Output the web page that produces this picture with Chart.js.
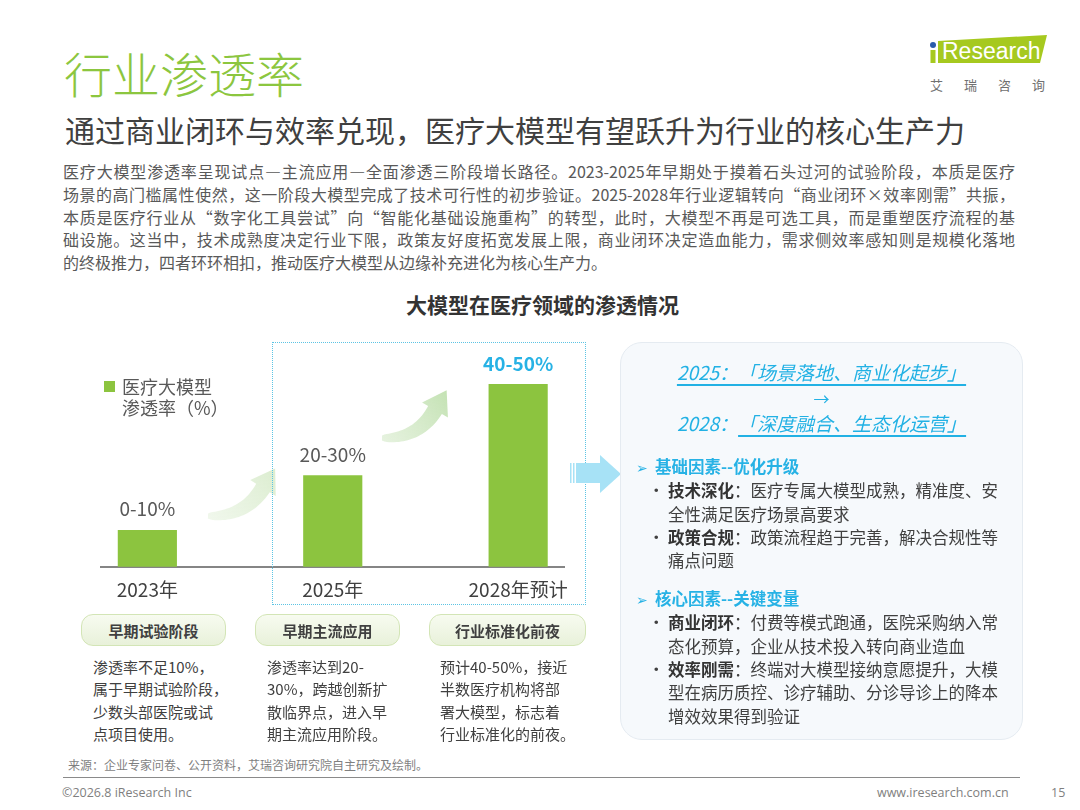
<!DOCTYPE html>
<html lang="zh-CN">
<head>
<meta charset="utf-8">
<script src="https://cdn.jsdelivr.net/npm/chart.js@4.4.1/dist/chart.umd.min.js"></script>
<style>
  * { margin: 0; padding: 0; box-sizing: border-box; }
  html, body { width: 1080px; height: 810px; background: #fff; overflow: hidden; }
  body { position: relative; font-family: "Noto Sans CJK SC", "Noto Sans", sans-serif; color: #404040; }
  .abs { position: absolute; white-space: nowrap; }

  /* ── header ── */
  .title    { left: 64px; top: 48px; font-size: 48px; line-height: 48px; color: #8cc63f; font-weight: 300; }
  .subtitle { left: 65px; top: 114px; font-size: 30px; line-height: 30px; color: #404040; }
  .logo-box { left: 926px; top: 34px; width: 124px; height: 32px; }
  .logo-cn  { left: 930px; top: 77px; font-size: 13px; line-height: 16px; color: #707070; letter-spacing: 21px; }

  .para { left: 63px; top: 160px; width: 952px; font-size: 16px; line-height: 22.75px; color: #595959; }
  .para div { text-align: justify; text-align-last: justify; white-space: nowrap; }
  .para div.last { text-align-last: left; }

  .chart-title { left: 0; width: 1085px; text-align: center; top: 292px; font-size: 21px; line-height: 24px; font-weight: bold; color: #333; }

  /* ── chart area ── */
  #chartWrap { position: absolute; left: 60px; top: 330px; width: 560px; height: 280px; }
  .legend-sq { left: 104px; top: 381px; width: 11px; height: 11px; background: #8cc43f; }
  .legend-tx { left: 122px; font-size: 18px; line-height: 20px; height: 20px; color: #595959; }
  .dash-box { left: 272px; top: 342px; width: 314px; height: 263px; border: 1.5px dotted #5cc4e4; }

  /* ── stage boxes ── */
  .stage { top: 614px; height: 32px; border: 1.5px solid #d3e5b6; border-radius: 12px;
           background: linear-gradient(#f7fbf0, #e8f1da); display: flex; align-items: center; justify-content: center;
           font-size: 15px; font-weight: bold; color: #404040; }
  .desc { top: 656px; font-size: 15px; line-height: 22.4px; color: #404040; }

  /* ── right panel ── */
  .panel { left: 620px; top: 342px; width: 403px; height: 398px; border-radius: 22px; background: #f6f9fc; border: 1px solid #e5ebf1; }
  .hl { left: 620px; width: 403px; text-align: center; font-size: 19px; line-height: 24px; font-style: italic; color: #22b1e4; }
  .hl u { text-decoration: underline; text-underline-offset: 4px; text-decoration-thickness: 1.5px; }
  .sec { left: 636px; font-size: 16.5px; line-height: 23.35px; color: #404040; }
  .sec .h { color: #27b2e5; font-weight: bold; }
  .sec .h .mk { display: inline-block; width: 19px; font-size: 14px; font-weight: normal; }
  .sec .b { position: relative; padding-left: 32px; }
  .sec .b .dot { position: absolute; left: 12px; top: 0; }
  .sec b { color: #333; }

  /* ── footer ── */
  .source { left: 68px; top: 757px; font-size: 12px; line-height: 16px; color: #7f7f7f; }
  .rule { left: 63px; top: 777px; width: 957px; height: 0; border-top: 1.5px solid #8a8a8a; }
  .foot { top: 785px; font-size: 12.5px; line-height: 16px; color: #7f7f7f; font-family: "Open Sans", "Noto Sans", sans-serif; }
</style>
</head>
<body>

<!-- header -->
<div class="abs title">行业渗透率</div>
<div class="abs subtitle">通过商业闭环与效率兑现，医疗大模型有望跃升为行业的核心生产力</div>
<svg class="abs logo-box" viewBox="0 0 124 32" width="124" height="32">
  <polygon points="12,7 121,1 114,29 12,29" fill="#a6c91f"/>
  <circle cx="7" cy="11" r="3" fill="#2a5caa"/>
  <rect x="4.5" y="16" width="5" height="13" fill="#a6c91f"/>
  <text x="16" y="25" font-family="Liberation Sans, Arial, sans-serif" font-size="23" fill="#ffffff">Research</text>
</svg>
<div class="abs logo-cn">艾瑞咨询</div>

<div class="abs para">
  <div>医疗大模型渗透率呈现试点—主流应用—全面渗透三阶段增长路径。2023-2025年早期处于摸着石头过河的试验阶段，本质是医疗</div>
  <div>场景的高门槛属性使然，这一阶段大模型完成了技术可行性的初步验证。2025-2028年行业逻辑转向“商业闭环×效率刚需”共振，</div>
  <div>本质是医疗行业从“数字化工具尝试”向“智能化基础设施重构”的转型，此时，大模型不再是可选工具，而是重塑医疗流程的基</div>
  <div>础设施。这当中，技术成熟度决定行业下限，政策友好度拓宽发展上限，商业闭环决定造血能力，需求侧效率感知则是规模化落地</div>
  <div class="last">的终极推力，四者环环相扣，推动医疗大模型从边缘补充进化为核心生产力。</div>
</div>

<div class="abs chart-title">大模型在医疗领域的渗透情况</div>

<!-- chart -->
<div id="chartWrap"><canvas id="penChart" width="560" height="280"></canvas></div>
<div class="abs legend-sq"></div>
<div class="abs legend-tx" style="top:376px">医疗大模型</div>
<div class="abs legend-tx" style="top:397px">渗透率（%）</div>
<div class="abs dash-box"></div>

<!-- big chevron into the panel -->
<svg class="abs" style="left:566px;top:452px" width="58" height="44" viewBox="0 0 58 44">
  <rect x="4" y="11" width="1.5" height="20" fill="#a7e2f6"/>
  <rect x="7" y="11" width="1.5" height="20" fill="#a7e2f6"/>
  <rect x="10" y="11" width="25" height="20" fill="#a7e2f6"/>
  <polygon points="34,3 55,22 34,41" fill="#a7e2f6"/>
</svg>

<!-- stage boxes -->
<div class="abs stage" style="left:81px;width:145px">早期试验阶段</div>
<div class="abs stage" style="left:255px;width:145px">早期主流应用</div>
<div class="abs stage" style="left:429px;width:157px">行业标准化前夜</div>

<div class="abs desc" style="left:93px">渗透率不足10%，<br>属于早期试验阶段，<br>少数头部医院或试<br>点项目使用。</div>
<div class="abs desc" style="left:267px">渗透率达到20-<br>30%，跨越创新扩<br>散临界点，进入早<br>期主流应用阶段。</div>
<div class="abs desc" style="left:440px">预计40-50%，接近<br>半数医疗机构将部<br>署大模型，标志着<br>行业标准化的前夜。</div>

<!-- right panel -->
<div class="abs panel"></div>
<div class="abs hl" style="top:360px"><u>2025：「场景落地、商业化起步」</u></div>
<div class="abs hl" style="top:386px;font-style:normal;font-size:16px">→</div>
<div class="abs hl" style="top:411px">2028：<u>「深度融合、生态化运营」</u></div>

<div class="abs sec" style="top:455px">
  <div class="h"><span class="mk">➢</span>基础因素--优化升级</div>
  <div class="b"><span class="dot">•</span><b>技术深化</b>：医疗专属大模型成熟，精准度、安<br>全性满足医疗场景高要求</div>
  <div class="b"><span class="dot">•</span><b>政策合规</b>：政策流程趋于完善，解决合规性等<br>痛点问题</div>
</div>
<div class="abs sec" style="top:587px">
  <div class="h"><span class="mk">➢</span>核心因素--关键变量</div>
  <div class="b"><span class="dot">•</span><b>商业闭环</b>：付费等模式跑通，医院采购纳入常<br>态化预算，企业从技术投入转向商业造血</div>
  <div class="b"><span class="dot">•</span><b>效率刚需</b>：终端对大模型接纳意愿提升，大模<br>型在病历质控、诊疗辅助、分诊导诊上的降本<br>增效效果得到验证</div>
</div>

<!-- footer -->
<div class="abs source">来源：企业专家问卷、公开资料，艾瑞咨询研究院自主研究及绘制。</div>
<div class="abs rule"></div>
<div class="abs foot" style="left:62px">©2026.8 iResearch Inc</div>
<div class="abs foot" style="left:877px">www.iresearch.com.cn</div>
<div class="abs foot" style="left:1051px">15</div>

<script>
// ── Data ──────────────────────────────────────────────────────────────────────
const YEARS        = ["2023年", "2025年", "2028年预计"];
const BAR_VALUES   = [10, 25, 50];                    // bar heights (%)
const RANGE_LABELS = ["0-10%", "20-30%", "40-50%"];
const LABEL_COLORS = ["#595959", "#595959", "#27b2e5"];

const FONT = '"Noto Sans CJK SC", "Noto Sans", sans-serif';

// ── Curved "growth" arrows between the bars ──────────────────────────────────
function curvedArrow(ctx, p0, p1, p2, tailW, shaftW, headW, headLen, fill) {
  const N = 30, left = [], right = [];
  for (let k = 0; k <= N; k++) {
    const t = k / N, mt = 1 - t;
    const x = mt*mt*p0[0] + 2*mt*t*p1[0] + t*t*p2[0];
    const y = mt*mt*p0[1] + 2*mt*t*p1[1] + t*t*p2[1];
    const dx = 2*mt*(p1[0]-p0[0]) + 2*t*(p2[0]-p1[0]);
    const dy = 2*mt*(p1[1]-p0[1]) + 2*t*(p2[1]-p1[1]);
    const len = Math.hypot(dx, dy) || 1;
    const nx = -dy / len, ny = dx / len;
    const w = (tailW + (shaftW - tailW) * Math.sqrt(t)) / 2;
    left.push([x + nx*w, y + ny*w]);
    right.push([x - nx*w, y - ny*w]);
  }
  const dx = p2[0]-p1[0], dy = p2[1]-p1[1], len = Math.hypot(dx, dy);
  const ux = dx/len, uy = dy/len, nx = -uy, ny = ux;
  ctx.beginPath();
  ctx.moveTo(left[0][0], left[0][1]);
  left.forEach(p => ctx.lineTo(p[0], p[1]));
  ctx.lineTo(p2[0] + nx*headW/2, p2[1] + ny*headW/2);
  ctx.lineTo(p2[0] + ux*headLen, p2[1] + uy*headLen);
  ctx.lineTo(p2[0] - nx*headW/2, p2[1] - ny*headW/2);
  right.reverse().forEach(p => ctx.lineTo(p[0], p[1]));
  ctx.closePath();
  ctx.fillStyle = fill;
  ctx.fill();
}

const growthArrows = {
  id: "growthArrows",
  beforeDatasetsDraw(chart) {
    const { ctx } = chart;
    const arrows = [
      { tail: [148, 186], ctrl: [185, 187], end: [203, 158],
        from: "rgba(222,238,212,0.45)", to: "rgba(214,234,200,0.85)" },
      { tail: [322, 108], ctrl: [358, 109], end: [375, 80],
        from: "rgba(208,231,195,0.55)", to: "rgba(190,223,172,0.9)" },
    ];
    ctx.save();
    arrows.forEach(a => {
      const g = ctx.createLinearGradient(a.tail[0], a.tail[1], a.end[0] + 12, a.end[1] - 18);
      g.addColorStop(0, a.from);
      g.addColorStop(1, a.to);
      curvedArrow(ctx, a.tail, a.ctrl, a.end, 5, 16, 30, 23, g);
    });
    ctx.restore();
  }
};

// ── Range labels on top of each bar ───────────────────────────────────────────
const rangeLabels = {
  id: "rangeLabels",
  afterDatasetsDraw(chart) {
    const { ctx } = chart;
    chart.getDatasetMeta(0).data.forEach((bar, i) => {
      ctx.save();
      ctx.font = (i === 2 ? "600 " : "") + "19px " + FONT;
      ctx.fillStyle = LABEL_COLORS[i];
      ctx.textAlign = "center";
      ctx.textBaseline = "middle";
      ctx.fillText(RANGE_LABELS[i], bar.x, bar.y - 21);
      ctx.restore();
    });
  }
};

// ── Chart ─────────────────────────────────────────────────────────────────────
new Chart(document.getElementById("penChart").getContext("2d"), {
  type: "bar",
  data: {
    datasets: [{
      data: BAR_VALUES.map((v, i) => ({ x: i, y: v })),
      backgroundColor: "#8cc43f",
      barThickness: 58.5,
    }],
  },
  options: {
    responsive: false,
    animation: false,
    layout: { padding: { left: 41, right: 55.5, top: 18, bottom: 0 } },
    plugins: { legend: { display: false }, tooltip: { enabled: false } },
    scales: {
      x: {
        type: "linear",
        offset: false,
        min: -0.25,
        max: 2.25,
        grid: { display: true, color: "rgba(0,0,0,0)", drawTicks: false, offset: false },
        border: { display: true, color: "#858585", width: 2 },
        afterBuildTicks: s => { s.ticks = YEARS.map((_, i) => ({ value: i })); },
        afterFit: s => { s.height = 43.3; s.paddingLeft = 0; s.paddingRight = 0; },
        ticks: {
          padding: 12,
          autoSkip: false,
          maxRotation: 0,
          color: "#404040",
          font: { family: FONT, size: 19 },
          callback: v => YEARS[v] ?? "",
        },
      },
      y: { display: false, min: 0, max: 60 },
    },
  },
  plugins: [growthArrows, rangeLabels],
});
</script>
</body>
</html>
